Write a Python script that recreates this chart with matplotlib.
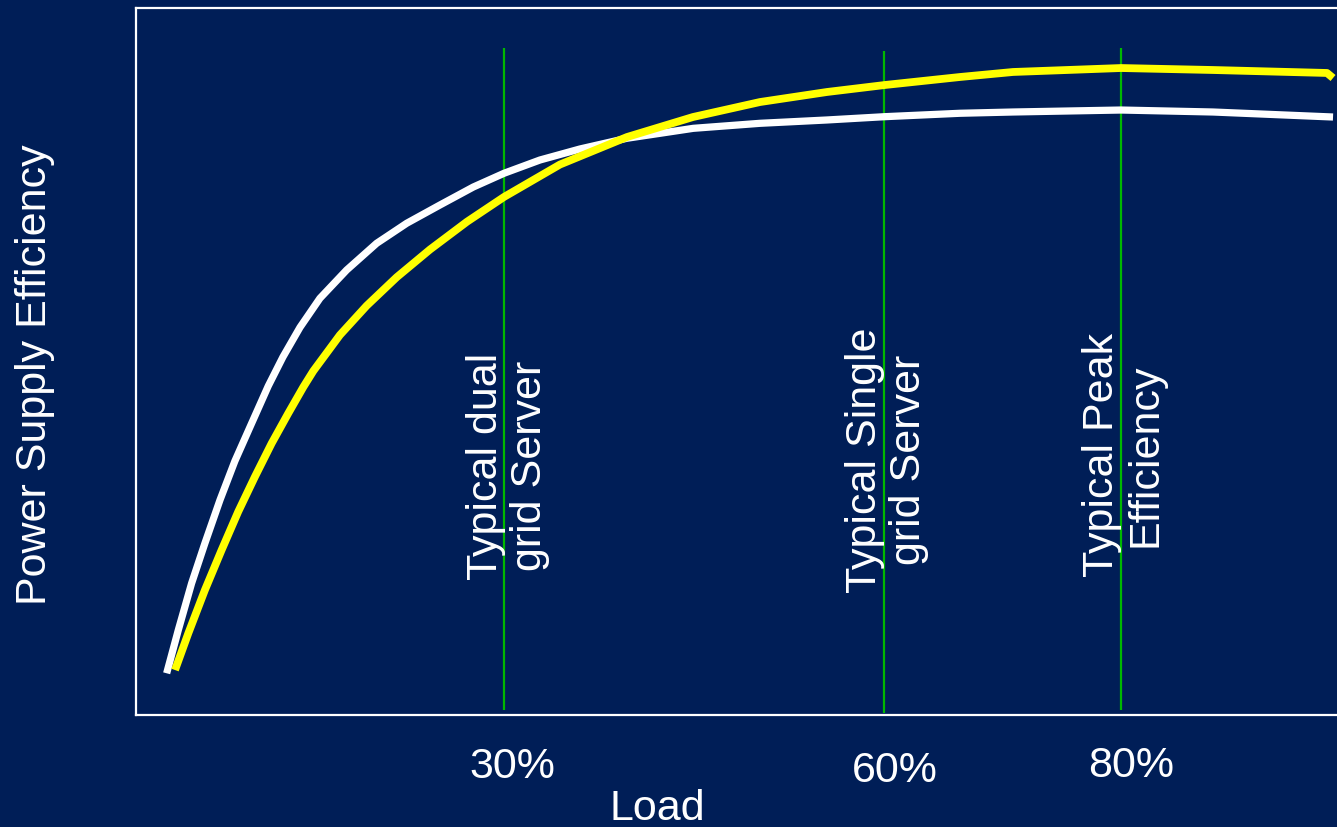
import numpy as np
import matplotlib
matplotlib.use("Agg")
from matplotlib import pyplot as plt

# Load (%) vs. power supply efficiency, two supply curves
white_load = [3.37, 4.29, 5.34, 6.39, 7.58, 8.76, 10.08, 11.39, 12.55, 13.90, 15.47,
              17.58, 19.95, 22.32, 24.95, 27.58, 30.0, 32.84, 36.0, 39.69, 44.94,
              50.21, 55.48, 60.08, 66.41, 70.89, 80.0, 87.76, 97.89]
white_eff = [5.90, 12.02, 18.63, 24.29, 30.41, 35.93, 41.26, 46.53, 50.64, 54.84, 58.94,
             62.94, 66.72, 69.55, 72.14, 74.68, 76.62, 78.50, 80.06, 81.57, 82.98,
             83.69, 84.16, 84.63, 85.11, 85.29, 85.57, 85.29, 84.58]

yellow_load = [4.03, 5.08, 6.39, 7.71, 9.02, 10.34, 11.66, 12.97, 14.16, 14.95, 17.05,
               19.16, 21.53, 24.16, 27.08, 30.0, 34.42, 39.71, 44.92, 50.21, 55.50,
               60.08, 66.41, 70.89, 80.0, 87.76, 97.38, 97.89]
yellow_eff = [6.36, 11.56, 17.68, 23.34, 28.76, 33.71, 38.43, 42.67, 46.39, 48.66, 53.75,
              57.89, 61.92, 65.84, 69.77, 73.27, 77.86, 81.75, 84.58, 86.70, 88.12,
              89.11, 90.24, 90.95, 91.51, 91.23, 90.81, 90.10]

# marker lines for typical operating points
mark_load = [30, 60, 80]
mark_top = [94.3, 93.9, 94.3]
mark_bottom = [0.7, 0.3, 0.7]
mark_ticks = ["30%", "60%", "80%"]
mark_notes = ["Typical dual\ngrid Server", "Typical Single\ngrid Server", "Typical Peak\nEfficiency"]

# the load axis is drawn piecewise-linear between the marked loads
LOAD_KNOTS = [-20, 30, 60, 80, 120]
POS_KNOTS = [-129.3, 504, 884, 1121, 1595]

def fwd(x):
    return np.interp(x, LOAD_KNOTS, POS_KNOTS)

def inv(p):
    return np.interp(p, POS_KNOTS, LOAD_KNOTS)

bg = "#001E57"
plt.rcParams["font.family"] = ["Liberation Sans", "DejaVu Sans"]

fig = plt.figure(figsize=(13.37, 8.27), dpi=100, facecolor=bg)
ax = fig.add_axes([136 / 1337, 1 - 715 / 827, (1345 - 136) / 1337, 707 / 827])
ax.set_facecolor(bg)
ax.set_xscale("function", functions=(fwd, inv))
ax.set_xlim(0.95, 98.9)
ax.set_ylim(0, 100)
ax.set_xticks([])
ax.set_yticks([])
for s in ax.spines.values():
    s.set_color("white")
    s.set_linewidth(1.6)

ax.vlines(mark_load, mark_bottom, mark_top, color="#00B800", linewidth=1.6, zorder=2)

ax.plot(white_load, white_eff, color="white", linewidth=5.2,
        solid_capstyle="butt", solid_joinstyle="round", zorder=3)
ax.plot(yellow_load, yellow_eff, color="#FFFF00", linewidth=5.6,
        solid_capstyle="butt", solid_joinstyle="round", zorder=4)

# rotated notes beside each marker line
note_y = [0.352, 0.361, 0.368]
note_dx = [4, 3, 3]
for x, note, fy, dx in zip(mark_load, mark_notes, note_y, note_dx):
    ax.annotate(note, xy=(x, fy), xycoords=("data", "axes fraction"),
                xytext=(dx, 0), textcoords="offset pixels",
                rotation=90, ha="center", va="center", multialignment="center",
                color="white", fontsize=31, linespacing=1.12)

# load labels under the axis
tick_dx = [8, 11, 10]
tick_dy = [-63, -67, -62]
for x, lab, dx, dy in zip(mark_load, mark_ticks, tick_dx, tick_dy):
    ax.annotate(lab, xy=(x, 0), xycoords=("data", "axes fraction"),
                xytext=(dx, dy), textcoords="offset pixels",
                ha="center", va="baseline", color="white", fontsize=31,
                annotation_clip=False)

fig.text(657 / 1337, 1 - 820 / 827, "Load", ha="center", va="baseline",
         color="white", fontsize=31)
fig.text(35 / 1337, 1 - 375 / 827, "Power Supply Efficiency", rotation=90,
         ha="center", va="center", color="white", fontsize=31)

fig.savefig("out.png", dpi=100, facecolor=bg)
